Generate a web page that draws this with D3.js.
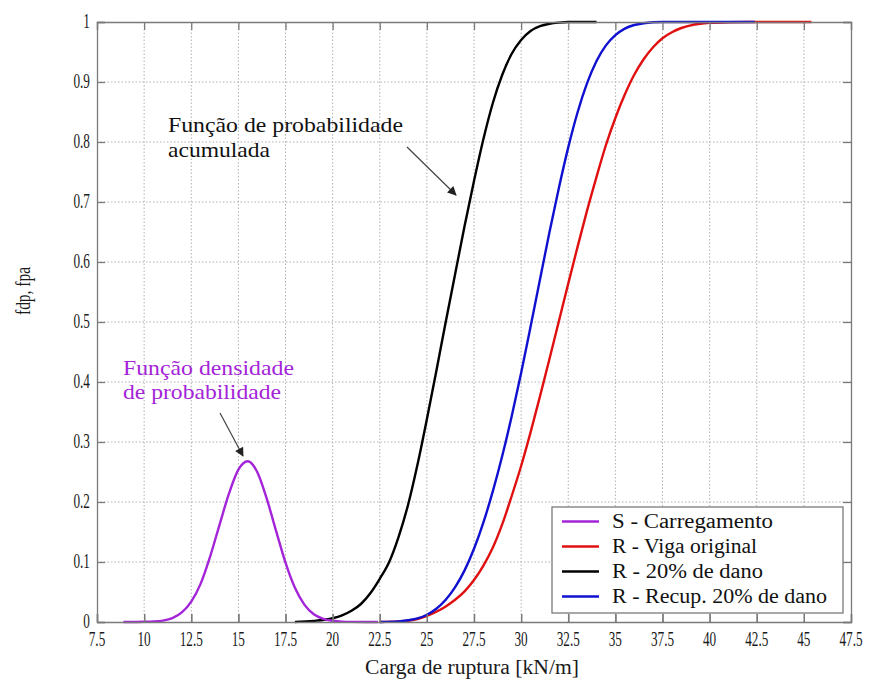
<!DOCTYPE html>
<html>
<head>
<meta charset="utf-8">
<script src="https://cdn.jsdelivr.net/npm/d3@7"></script>
<style>
  html, body { margin: 0; padding: 0; background: #fff; }
  svg { display: block; }
</style>
</head>
<body>
<div id="chart"></div>
<script>
// ---- data ----
const xTicks = [7.5, 10, 12.5, 15, 17.5, 20, 22.5, 25, 27.5, 30, 32.5, 35, 37.5, 40, 42.5, 45, 47.5];
const xTickLabels = ["7.5","10","12.5","15","17.5","20","22.5","25","27.5","30","32.5","35","37.5","40","42.5","45","47.5"];
const yTicks = [0, 0.1, 0.2, 0.3, 0.4, 0.5, 0.6, 0.7, 0.8, 0.9, 1];
const yTickLabels = ["0","0.1","0.2","0.3","0.4","0.5","0.6","0.7","0.8","0.9","1"];

// S - Carregamento (fdp)
const sX = [8.9, 9.5, 10, 10.5, 11, 11.5, 12, 12.5, 13, 13.5, 14, 14.5, 15, 15.5, 16, 16.5, 17, 17.5, 18, 18.5, 19, 19.5, 20, 20.5, 21, 22.4];
const sY = [0, 0.0001, 0.0003, 0.0008, 0.0024, 0.0066, 0.016, 0.034, 0.064, 0.109, 0.162, 0.214, 0.254, 0.268, 0.25, 0.206, 0.152, 0.099, 0.057, 0.029, 0.013, 0.0054, 0.002, 0.0006, 0.0002, 0];

// R - Viga original (fpa)
const rOrigX = [22.5, 23.5, 24, 24.5, 25, 25.5, 26, 26.5, 27, 27.5, 28, 28.5, 29, 29.5, 30, 30.5, 31, 31.5, 32, 32.5, 33, 33.5, 34, 34.5, 35, 35.5, 36, 36.5, 37, 37.5, 38, 38.5, 39, 39.5, 40, 41, 42, 45.4];
const rOrigY = [0, 0.001, 0.002, 0.005, 0.01, 0.017, 0.026, 0.037, 0.051, 0.070, 0.094, 0.124, 0.163, 0.21, 0.26, 0.316, 0.376, 0.438, 0.501, 0.564, 0.626, 0.686, 0.742, 0.795, 0.84, 0.879, 0.912, 0.938, 0.958, 0.973, 0.983, 0.99, 0.9945, 0.997, 0.9985, 0.9997, 1, 1];

// R - 20% de dano (fpa)
const rDanoX = [18, 19, 20, 20.5, 21, 21.5, 22, 22.5, 23, 23.5, 24, 24.5, 25, 25.5, 26, 26.5, 27, 27.5, 28, 28.5, 29, 29.5, 30, 30.5, 31, 31.5, 32, 32.5, 34];
const rDanoY = [0, 0.0018, 0.0062, 0.011, 0.0186, 0.03, 0.048, 0.072, 0.1, 0.142, 0.195, 0.262, 0.338, 0.418, 0.5, 0.58, 0.66, 0.735, 0.805, 0.865, 0.912, 0.947, 0.97, 0.985, 0.993, 0.997, 0.999, 1, 1];

// R - Recup. 20% de dano (fpa)
const rRecX = [22.5, 23.5, 24, 24.5, 25, 25.5, 26, 26.5, 27, 27.5, 28, 28.5, 29, 29.5, 30, 30.5, 31, 31.5, 32, 32.5, 33, 33.5, 34, 34.5, 35, 35.5, 36, 36.5, 37, 37.5, 40, 42.4];
const rRecY = [0, 0.001, 0.003, 0.006, 0.012, 0.022, 0.037, 0.058, 0.086, 0.122, 0.166, 0.218, 0.277, 0.343, 0.415, 0.492, 0.571, 0.649, 0.723, 0.791, 0.85, 0.898, 0.935, 0.961, 0.978, 0.989, 0.995, 0.998, 0.9995, 1, 1, 1];

const seriesNames = ["S - Carregamento", "R - Viga original", "R - 20% de dano", "R - Recup. 20% de dano"];
const seriesColors = ["#a424d8", "#e01010", "#000000", "#1010d0"];

// ---- drawing ----
const FONT = "'Liberation Serif', 'Times New Roman', Tinos, 'DejaVu Serif', serif";
const W = 873, H = 688;
const svg = d3.select("#chart").append("svg").attr("width", W).attr("height", H)
  .attr("font-family", FONT);

const x = d3.scaleLinear().domain([7.5, 47.5]).range([97, 851]);
const y = d3.scaleLinear().domain([0, 1]).range([622, 22]);

const axisColor = "#7a7a7a";

// grid
const grid = svg.append("g");
grid.selectAll("line.vx").data(xTicks.slice(1, -1)).enter().append("line")
  .attr("x1", d => x(d)).attr("x2", d => x(d)).attr("y1", y(0)).attr("y2", y(1))
  .attr("stroke", "#b0b0b0").attr("stroke-width", 1).attr("stroke-dasharray", "1.5,2");
grid.selectAll("line.hy").data(yTicks.slice(1, -1)).enter().append("line")
  .attr("x1", x(7.5)).attr("x2", x(47.5)).attr("y1", d => y(d)).attr("y2", d => y(d))
  .attr("stroke", "#b0b0b0").attr("stroke-width", 1).attr("stroke-dasharray", "1.5,2");

// series
const line = d3.line().x(d => x(d[0])).y(d => y(d[1])).curve(d3.curveMonotoneX);
const seriesData = [
  d3.zip(sX, sY), d3.zip(rOrigX, rOrigY), d3.zip(rDanoX, rDanoY), d3.zip(rRecX, rRecY)
];
const drawOrder = [1, 2, 3, 0];
drawOrder.forEach(i => {
  svg.append("path").datum(seriesData[i]).attr("d", line)
    .attr("fill", "none").attr("stroke", seriesColors[i]).attr("stroke-width", 2.4)
    .attr("stroke-linejoin", "round");
});

// axes with inward ticks
const xAxisB = d3.axisBottom(x).tickValues(xTicks).tickSize(-8).tickFormat("");
const xAxisT = d3.axisTop(x).tickValues(xTicks).tickSize(-8).tickFormat("");
const yAxisL = d3.axisLeft(y).tickValues(yTicks).tickSize(-8).tickFormat("");
const yAxisR = d3.axisRight(y).tickValues(yTicks).tickSize(-8).tickFormat("");
function styleAxis(g) {
  g.selectAll("path, line").attr("stroke", axisColor).attr("stroke-width", 1.3);
}
svg.append("g").attr("transform", `translate(0,${y(0)})`).call(xAxisB).call(styleAxis);
svg.append("g").attr("transform", `translate(0,${y(1)})`).call(xAxisT).call(styleAxis);
svg.append("g").attr("transform", `translate(${x(7.5)},0)`).call(yAxisL).call(styleAxis);
svg.append("g").attr("transform", `translate(${x(47.5)},0)`).call(yAxisR).call(styleAxis);

// tick labels
svg.append("g").selectAll("text").data(xTicks).enter().append("text")
  .attr("x", d => x(d)).attr("y", 646)
  .attr("text-anchor", "middle").attr("font-size", 21).attr("fill", "#1a1a1a")
  .attr("font-family", FONT)
  .attr("transform", d => `translate(${x(d)},0) scale(0.63,1) translate(${-x(d)},0)`)
  .text((d, i) => xTickLabels[i]);
svg.append("g").selectAll("text").data(yTicks).enter().append("text")
  .attr("x", 90).attr("y", d => y(d) + 6.5)
  .attr("text-anchor", "end").attr("font-size", 21).attr("fill", "#1a1a1a")
  .attr("font-family", FONT)
  .attr("transform", `translate(90,0) scale(0.63,1) translate(-90,0)`)
  .text((d, i) => yTickLabels[i]);

// axis titles
svg.append("text").attr("x", 472).attr("y", 674).attr("text-anchor", "middle")
  .attr("font-size", 20).attr("fill", "#1a1a1a").attr("font-family", FONT)
  .attr("textLength", 214).attr("lengthAdjust", "spacingAndGlyphs")
  .text("Carga de ruptura [kN/m]");
svg.append("text").attr("transform", "translate(30,291) rotate(-90)")
  .attr("text-anchor", "middle").attr("font-size", 21).attr("fill", "#1a1a1a")
  .attr("font-family", FONT)
  .attr("textLength", 48).attr("lengthAdjust", "spacingAndGlyphs")
  .text("fdp, fpa");

// arrow marker
const defs = svg.append("defs");
defs.append("marker").attr("id", "arr").attr("viewBox", "0 0 10 10")
  .attr("refX", 9).attr("refY", 5).attr("markerWidth", 11).attr("markerHeight", 9)
  .attr("markerUnits", "userSpaceOnUse").attr("orient", "auto")
  .append("path").attr("d", "M0,0 L10,5 L0,10 z").attr("fill", "#222");

// annotation: cumulative
svg.append("text").attr("x", 168).attr("y", 132).attr("font-size", 22).attr("fill", "#111")
  .attr("font-family", FONT)
  .attr("textLength", 235).attr("lengthAdjust", "spacingAndGlyphs")
  .text("Função de probabilidade");
svg.append("text").attr("x", 168).attr("y", 157).attr("font-size", 22).attr("fill", "#111")
  .attr("font-family", FONT)
  .attr("textLength", 102).attr("lengthAdjust", "spacingAndGlyphs")
  .text("acumulada");
svg.append("line").attr("x1", 407).attr("y1", 147).attr("x2", 456).attr("y2", 195)
  .attr("stroke", "#444").attr("stroke-width", 1.2).attr("marker-end", "url(#arr)");

// annotation: density
svg.append("text").attr("x", 123).attr("y", 375).attr("font-size", 21).attr("fill", seriesColors[0])
  .attr("font-family", FONT)
  .attr("textLength", 171).attr("lengthAdjust", "spacingAndGlyphs")
  .text("Função densidade");
svg.append("text").attr("x", 123).attr("y", 399).attr("font-size", 21).attr("fill", seriesColors[0])
  .attr("font-family", FONT)
  .attr("textLength", 158).attr("lengthAdjust", "spacingAndGlyphs")
  .text("de probabilidade");
svg.append("line").attr("x1", 220).attr("y1", 413).attr("x2", 243).attr("y2", 456)
  .attr("stroke", "#444").attr("stroke-width", 1.2).attr("marker-end", "url(#arr)");

// legend
const lg = svg.append("g");
lg.append("rect").attr("x", 552).attr("y", 507).attr("width", 291).attr("height", 106)
  .attr("fill", "#fff").attr("stroke", axisColor).attr("stroke-width", 1.3);
const legendWidths = [161, 145, 151, 215];
seriesNames.forEach((name, i) => {
  const cy = 521.5 + i * 25;
  lg.append("line").attr("x1", 562).attr("x2", 599).attr("y1", cy).attr("y2", cy)
    .attr("stroke", seriesColors[i]).attr("stroke-width", 2.4);
  lg.append("text").attr("x", 612).attr("y", cy + 6.5).attr("font-size", 20).attr("fill", "#111")
    .attr("font-family", FONT)
    .attr("textLength", legendWidths[i]).attr("lengthAdjust", "spacingAndGlyphs")
    .text(name);
});
// bottom ticks drawn over legend box
svg.append("g").attr("transform", `translate(0,${y(0)})`).call(xAxisB).call(styleAxis)
  .select(".domain").remove();
</script>
</body>
</html>
